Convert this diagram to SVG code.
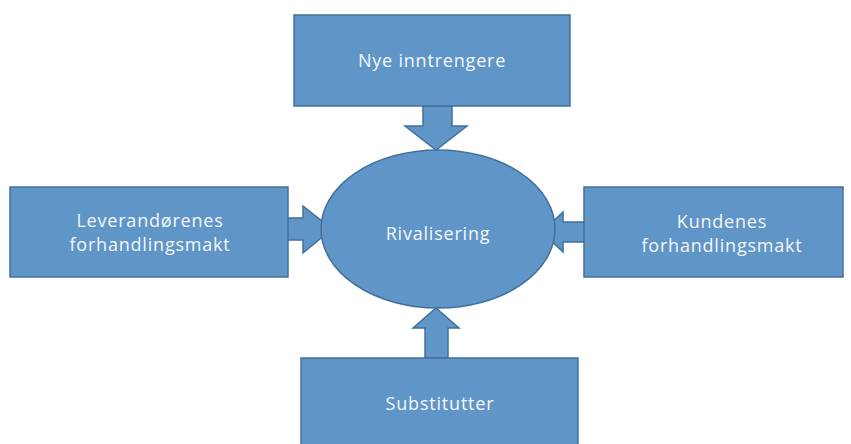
<svg xmlns="http://www.w3.org/2000/svg" width="851" height="444" viewBox="0 0 851 444">
<style>
.box{fill:#6095c7;stroke:#41709c;stroke-width:1.5}
.arr{fill:#6095c7;stroke:#41709c;stroke-width:1.5;stroke-linejoin:miter}
.t{font-family:"Open Sans","Liberation Sans",sans-serif;font-size:18px;letter-spacing:0.8px;fill:#f4f7fb;text-anchor:middle}
</style>
<rect width="851" height="444" fill="#ffffff"/>
<g id="connectors">
<polygon class="arr" points="423,106 452,106 452,126 467,126 436,150 405,126 423,126"/>
<polygon class="arr" points="281,218 303,218 303,206 332,229 303,253 303,240 281,240"/>
<polygon class="arr" points="586,222 563,222 563,212 542,232 563,252 563,242 586,242"/>
<polygon class="arr" points="425,358 425,328 413,328 436,308 459,328 448,328 448,358"/>
</g>
<g id="rivalisering">
<ellipse class="box" cx="438" cy="229" rx="117" ry="79"/>
<text class="t" x="438" y="240">Rivalisering</text>
</g>
<g id="nye">
<rect class="box" x="294" y="15" width="276" height="91"/>
<text class="t" x="432" y="67">Nye inntrengere</text>
</g>
<g id="leverandorer">
<rect class="box" x="10" y="187" width="278" height="90"/>
<text class="t" x="150" y="227">Leverandørenes</text>
<text class="t" x="150" y="251">forhandlingsmakt</text>
</g>
<g id="kunder">
<rect class="box" x="584" y="187" width="259" height="90"/>
<text class="t" x="722" y="228">Kundenes</text>
<text class="t" x="722" y="252">forhandlingsmakt</text>
</g>
<g id="substitutter">
<rect class="box" x="301" y="358" width="277" height="92"/>
<text class="t" x="440" y="410">Substitutter</text>
</g>
</svg>
